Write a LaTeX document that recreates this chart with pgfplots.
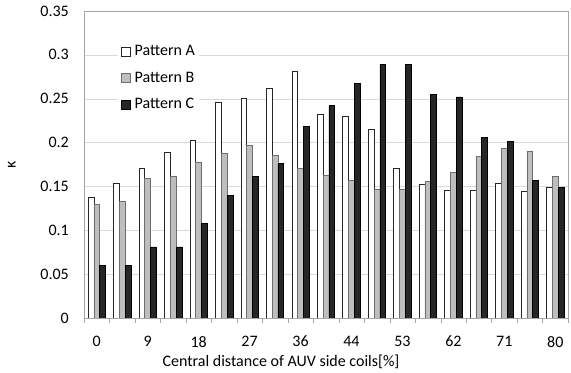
\documentclass[border=0pt]{standalone}
\usepackage{pgfplots}
\pgfplotsset{compat=1.18}
\usepackage{fontspec}
\setmainfont{Carlito}
\definecolor{barB}{HTML}{BEBEBE}
\definecolor{barBe}{HTML}{6E6E6E}
\definecolor{barC}{HTML}{262626}
\definecolor{gridc}{HTML}{D9D9D9}
\definecolor{axc}{HTML}{A6A6A6}
\begin{document}
\fontsize{16}{19}\selectfont
\begin{tikzpicture}
\begin{axis}[
  name=ax,
  scale only axis, width=484pt, height=307pt,
  ybar=0pt, bar width=5.8pt,
  xmin=-0.5, xmax=18.5, ymin=0, ymax=0.35,
  xtick={0,2,4,6,8,10,12,14,16,18},
  xticklabels={0,9,18,27,36,44,53,62,71,80},
  minor xtick={-0.5,0.5,1.5,2.5,3.5,4.5,5.5,6.5,7.5,8.5,9.5,10.5,11.5,12.5,13.5,14.5,15.5,16.5,17.5,18.5},
  ytick={0,0.05,0.1,0.15,0.2,0.25,0.3,0.35},
  yticklabels={0,0.05,0.1,0.15,0.2,0.25,0.3,0.35},
  major x tick style={draw=none},
  ytick style={draw=none},
  minor x tick style={axc},
  minor tick length=5pt,
  major tick length=0pt,
  tick align=outside,
  xtick pos=bottom,
  ymajorgrids, major grid style={gridc},
  axis line style={axc},
  xticklabel style={anchor=north, yshift=-18pt, inner sep=0pt},
  yticklabel style={anchor=east, xshift=-15pt, inner sep=0pt},
  /pgf/number format/assume math mode=true,
  xlabel={Central distance of AUV side coils[\%]},
  ylabel={κ},
  xlabel style={at={(axis description cs:0.407,0)}, anchor=center, yshift=-44pt, inner sep=0pt},
  ylabel style={at={(axis description cs:-0.149,0.5)}, anchor=center, inner sep=0pt},
  legend style={at={(axis description cs:0.070,0.902)}, anchor=north west, draw=none, fill=white,
    row sep=12pt, inner sep=3pt, font=\fontsize{16}{19}\selectfont,
    nodes={inner sep=1pt}},
  legend cell align=left,
  legend image code/.code={\draw[#1] (0pt,-4.5pt) rectangle (9pt,4.5pt); \path (12pt,0pt);},
]
\addplot[draw=black!85, fill=white, line width=0.6pt] coordinates {
(0,0.138) (1,0.154) (2,0.171) (3,0.189) (4,0.203) (5,0.246) (6,0.250) (7,0.262) (8,0.281) (9,0.232)
(10,0.230) (11,0.215) (12,0.171) (13,0.152) (14,0.146) (15,0.146) (16,0.154) (17,0.145) (18,0.149)};
\addplot[draw=barBe, fill=barB, line width=0.6pt] coordinates {
(0,0.130) (1,0.133) (2,0.159) (3,0.162) (4,0.178) (5,0.188) (6,0.197) (7,0.185) (8,0.171) (9,0.163)
(10,0.157) (11,0.147) (12,0.147) (13,0.156) (14,0.166) (15,0.184) (16,0.194) (17,0.190) (18,0.161)};
\addplot[draw=black, fill=barC, line width=0.6pt] coordinates {
(0,0.060) (1,0.060) (2,0.081) (3,0.081) (4,0.108) (5,0.140) (6,0.161) (7,0.176) (8,0.218) (9,0.242)
(10,0.267) (11,0.289) (12,0.289) (13,0.255) (14,0.252) (15,0.206) (16,0.201) (17,0.157) (18,0.149)};
\legend{Pattern A, Pattern B, Pattern C}
\end{axis}
\pgfresetboundingbox
\useasboundingbox ([shift={(-84pt,-55pt)}]ax.south west) rectangle ([shift={(3pt,11pt)}]ax.north east);
\end{tikzpicture}
\end{document}
